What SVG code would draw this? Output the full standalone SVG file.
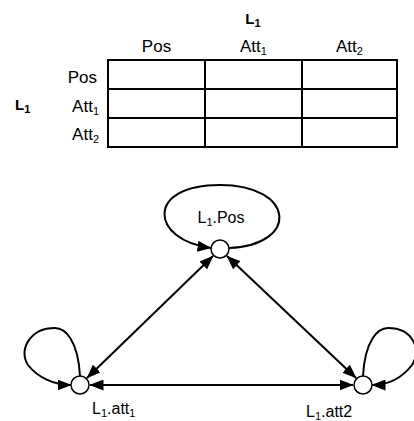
<svg xmlns="http://www.w3.org/2000/svg" width="414" height="421" viewBox="0 0 414 421">
  <style>
    text { font-family: "Liberation Sans", Arial, sans-serif; fill: #000; }
    .lbl { font-size: 17px; }
    .bold { font-size: 15px; font-weight: bold; }
    .node-lbl { font-size: 16px; }
    .sub { font-size: 11px; }
    .grid { fill: none; stroke: #000; stroke-width: 2; }
    .node { fill: #fff; stroke: #000; stroke-width: 1.5; }
    .edge { fill: none; stroke: #000; stroke-width: 2; }
  </style>
  <defs>
    <marker id="arrow" viewBox="0 0 14 11" refX="13.5" refY="5.5" markerWidth="14" markerHeight="11" markerUnits="userSpaceOnUse" orient="auto-start-reverse">
      <path d="M0,0 L14,5.5 L0,11 z" fill="#000"/>
    </marker>
  </defs>

  <!-- matrix of L1 states -->
  <g id="matrix">
    <text class="bold" x="253" y="24" text-anchor="middle">L<tspan class="sub" dy="3">1</tspan></text>
    <text class="lbl" x="156.5" y="52" text-anchor="middle">Pos</text>
    <text class="lbl" x="253.5" y="52" text-anchor="middle">Att<tspan class="sub" dy="3">1</tspan></text>
    <text class="lbl" x="349.5" y="52" text-anchor="middle">Att<tspan class="sub" dy="3">2</tspan></text>
    <text class="bold" x="15" y="110">L<tspan class="sub" dy="3">1</tspan></text>
    <text class="lbl" x="97" y="83" text-anchor="end">Pos</text>
    <text class="lbl" x="99" y="112" text-anchor="end">Att<tspan class="sub" dy="3">1</tspan></text>
    <text class="lbl" x="99" y="140" text-anchor="end">Att<tspan class="sub" dy="3">2</tspan></text>
    <rect class="grid" x="108" y="60" width="289" height="87"/>
    <path class="grid" d="M205,60 V147 M302,60 V147 M108,89 H397 M108,118 H397"/>
  </g>

  <!-- transitions -->
  <g id="connectors">
    <path class="edge" marker-end="url(#arrow)" d="M229,248 C300,245 295,185 220,185 C145,185 150,240 211,248"/>
    <path class="edge" marker-end="url(#arrow)" d="M80,376 C78,340 65,328 55,328 C30,328 18,350 28,365 C38,378 55,385 71,385"/>
    <path class="edge" marker-end="url(#arrow)" d="M363,376 C365,340 378,328 388,328 C413,328 422,350 412,365 C402,378 388,385 372,385"/>
    <line class="edge" marker-start="url(#arrow)" marker-end="url(#arrow)" x1="87" y1="378" x2="213" y2="256"/>
    <line class="edge" marker-start="url(#arrow)" marker-end="url(#arrow)" x1="356" y1="378" x2="227" y2="256"/>
    <line class="edge" marker-start="url(#arrow)" marker-end="url(#arrow)" x1="90" y1="385" x2="353" y2="385"/>
  </g>

  <g id="node-pos">
    <circle class="node" cx="220" cy="249" r="9"/>
    <text class="node-lbl" x="221" y="223" text-anchor="middle">L<tspan class="sub" dy="3">1</tspan><tspan dy="-3">.Pos</tspan></text>
  </g>
  <g id="node-att1">
    <circle class="node" cx="80" cy="385" r="9"/>
    <text class="node-lbl" x="92" y="414">L<tspan class="sub" dy="3">1</tspan><tspan dy="-3">.att</tspan><tspan class="sub" dy="3">1</tspan></text>
  </g>
  <g id="node-att2">
    <circle class="node" cx="363" cy="385" r="9"/>
    <text class="node-lbl" x="306" y="417">L<tspan class="sub" dy="3">1</tspan><tspan dy="-3">.att2</tspan></text>
  </g>
</svg>
